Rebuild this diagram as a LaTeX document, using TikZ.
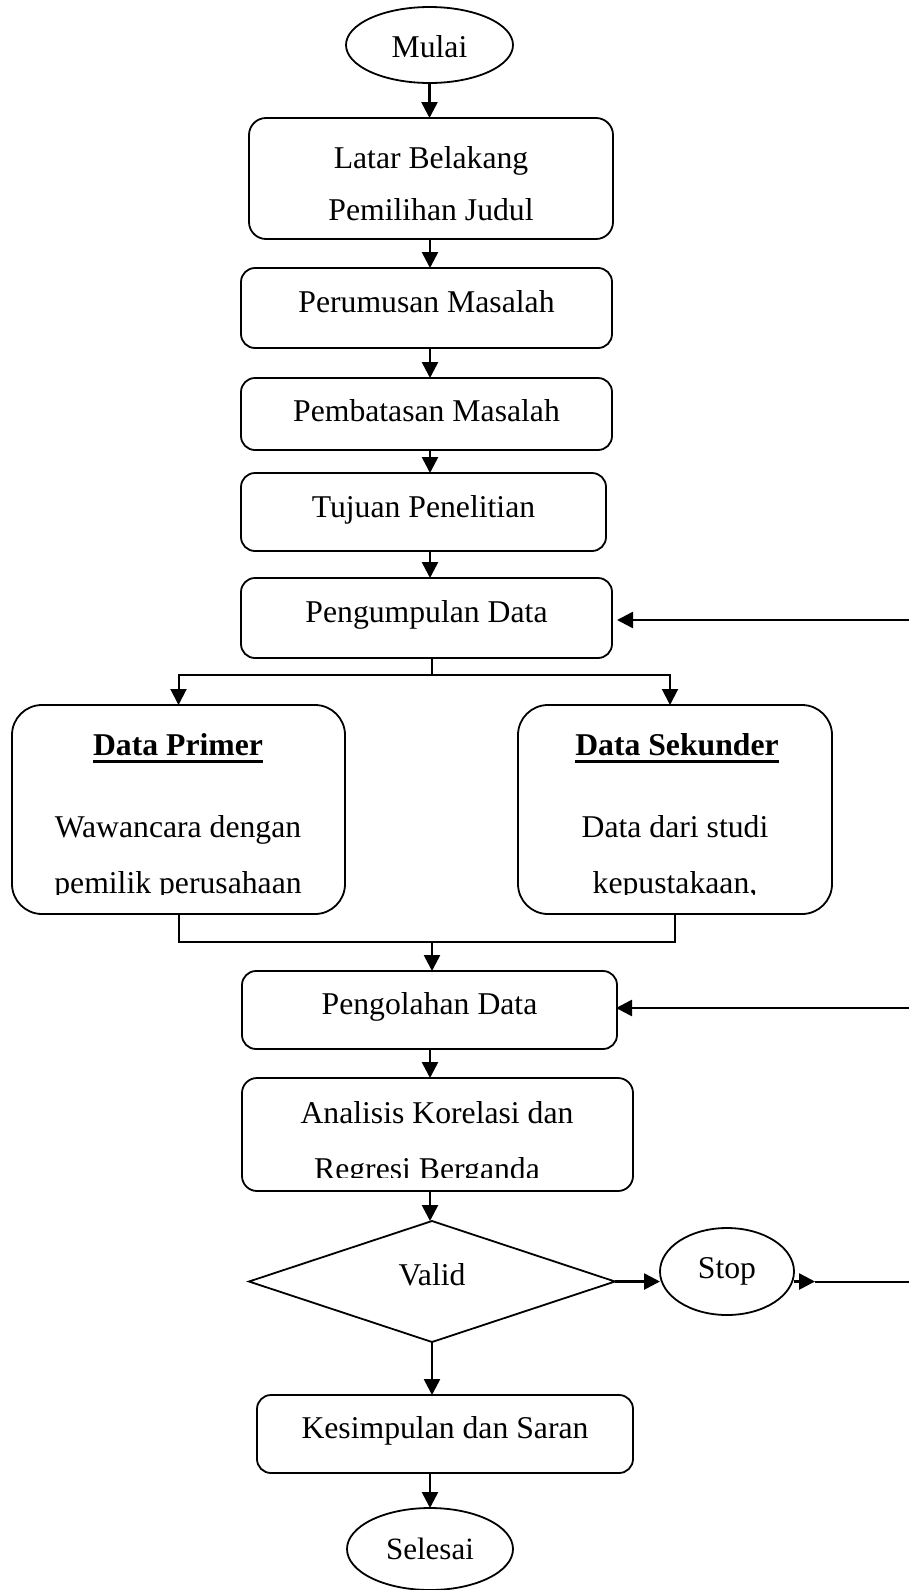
\documentclass[tikz,border=0pt]{standalone}
\usepackage{fontspec}
\setmainfont{Liberation Serif}
\usetikzlibrary{arrows.meta,shapes.geometric}
% bold heading with a thick underline
\newcommand\ulhead[1]{\setbox0=\hbox{\bfseries #1}\leavevmode\rlap{\rule[-7.5pt]{\wd0}{3pt}}\box0}
\begin{document}
\begin{tikzpicture}[x=1pt,y=-1pt,
  box/.style={draw, line width=1.8pt, rounded corners=14pt, inner sep=0pt, outer sep=0pt,
    font=\fontsize{31.7}{38}\selectfont, text depth=0pt},
  bigbox/.style={box, rounded corners=30pt},
  oval/.style={draw, ellipse, line width=1.8pt, inner sep=0pt, outer sep=0pt,
    font=\fontsize{31.7}{38}\selectfont, text depth=0pt},
  decision/.style={draw, diamond, line width=1.8pt, inner sep=0pt, outer sep=0pt,
    font=\fontsize{31.7}{38}\selectfont, text depth=0pt},
  txt/.style={inner sep=0pt, anchor=base, font=\fontsize{31.7}{38}\selectfont},
  tip/.style={-{Triangle[length=16pt,width=16pt]}},
  arr/.style={line width=2.6pt, tip},
  link/.style={line width=2pt},
]
\path[use as bounding box] (0,0) rectangle (909,1590);

% ---- shapes ----
\node[oval, minimum width=167pt, minimum height=76pt, text height=24pt] (mulai) at (429.5,45) {Mulai};
\node[box, rounded corners=17pt, minimum width=364pt, minimum height=121pt] (latar) at (431,178.5) {};
\node[box, minimum width=371pt, minimum height=80pt, text height=8pt] (perum) at (426.5,308) {Perumusan Masalah};
\node[box, minimum width=371pt, minimum height=72pt, text height=14pt] (pemb) at (426.5,414) {Pembatasan Masalah};
\node[box, minimum width=365pt, minimum height=78pt, text height=10pt] (tujuan) at (423.5,512) {Tujuan Penelitian};
\node[box, minimum width=371pt, minimum height=80pt, text height=8pt] (pengum) at (426.5,618) {Pengumpulan Data};
\node[bigbox, minimum width=333pt, minimum height=209pt] (prim) at (178.5,809.5) {};
\node[bigbox, minimum width=314pt, minimum height=209pt] (sek) at (675,809.5) {};
\node[box, minimum width=375pt, minimum height=78pt, text height=8pt] (pengol) at (429.5,1010) {Pengolahan Data};
\node[box, rounded corners=15pt, minimum width=391pt, minimum height=113pt] (anal) at (437.5,1134.5) {};
\node[decision, minimum width=366pt, minimum height=121pt, text height=7pt] (valid) at (432,1281.5) {Valid};
\node[oval, minimum width=134pt, minimum height=87pt, text height=13pt] (stop) at (727,1271.5) {Stop};
\node[box, minimum width=376pt, minimum height=78pt, text height=8pt] (kes) at (445,1434) {Kesimpulan dan Saran};
\node[oval, minimum width=166pt, minimum height=82pt, text height=20pt,
  font=\fontsize{31}{37}\selectfont] (sel) at (430,1549) {Selesai};

% ---- multi-line texts ----
\node[txt] (latarA) at (431,168) {Latar Belakang};
\node[txt] (latarB) at (431,220) {Pemilihan Judul};
\node[txt] (primA) at (178,755) {\ulhead{Data Primer}};
\node[txt] (primB) at (178,837) {Wawancara dengan};
\node[txt] (sekA) at (677,755) {\ulhead{Data Sekunder}};
\node[txt] (sekB) at (675,837) {Data dari studi};
\node[txt] (analA) at (437,1123) {Analisis Korelasi dan};
\begin{scope}
  \clip (0,700) rectangle (909,894.5);
  \node[txt] (primC) at (178,893) {pemilik perusahaan};
  \node[txt] (sekC) at (675,893) {kepustakaan,};
\end{scope}
\begin{scope}
  \clip (0,1080) rectangle (909,1177.5);
  \node[txt] (analB) at (427,1179) {Regresi Berganda};
\end{scope}

% ---- connectors ----
\coordinate (col) at (430,0);
\coordinate (split) at (432,675);
\coordinate (merge) at (432,942);
\coordinate (sekIn) at (670,0);
\coordinate (fbA) at (909,620);
\coordinate (fbB) at (909,1008);
\coordinate (edge) at (909,0);

\draw[arr] (mulai.south) -- (mulai.south |- latar.north);
\draw[arr] (latar.south -| col) -- (perum.north -| col);
\draw[arr] (perum.south -| col) -- (pemb.north -| col);
\draw[arr] (pemb.south -| col) -- (tujuan.north -| col);
\draw[arr] (tujuan.south -| col) -- (pengum.north -| col);

\draw[link] (pengum.south -| split) -- (split);
\draw[link, tip] (split) -| (prim.north);
\draw[link, tip] (split) -| (sek.north -| sekIn);

\draw[link] (prim.south) -- (prim.south |- merge) -- (sek.south |- merge) -- (sek.south);
\draw[arr] (merge) -- (merge |- pengol.north);

\draw[arr, shorten >=5pt] (fbA) -- (fbA -| pengum.east);
\draw[arr, shorten >=-1pt] (fbB) -- (fbB -| pengol.east);

\draw[arr] (pengol.south -| col) -- (anal.north -| col);
\draw[arr] (anal.south -| col) -- (valid.north -| col);
\draw[arr] (valid.east) -- (valid.east -| stop.west);
\draw[arr] (valid.east -| stop.east) -- ++(21,0) coordinate (stopTip);
\draw[link] (stopTip) -- (stopTip -| edge);

\draw[arr] (valid.south) -- (valid.south |- kes.north);
\draw[arr] (kes.south -| col) -- (sel.north -| col);
\end{tikzpicture}
\end{document}
